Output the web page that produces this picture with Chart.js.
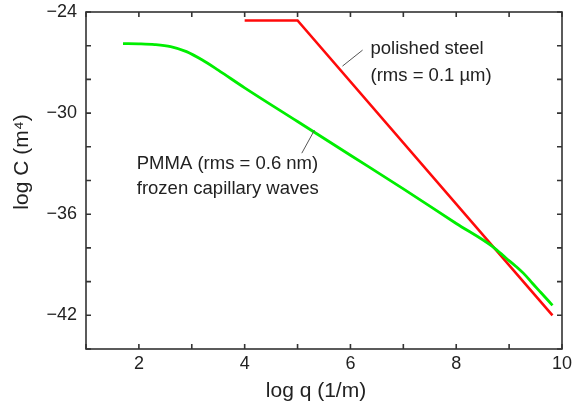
<!DOCTYPE html>
<html>
<head>
<meta charset="utf-8">
<script src="https://cdn.jsdelivr.net/npm/chart.js@4.4.1/dist/chart.umd.min.js"></script>
<style>
  html, body { margin: 0; padding: 0; background: #fff; }
</style>
</head>
<body>
<canvas id="psdChart" width="573" height="409"></canvas>
<script>
// power spectra of two surfaces, log C vs log q

const steelQ = [4.0, 5.0, 9.82];
const steelC = [-24.5, -24.5, -42.0];

const pmmaQ = [1.7, 2.0, 2.3, 2.6, 2.9, 3.2, 3.5, 4.0, 5.0, 6.0, 7.0, 8.0, 8.7, 8.94, 9.13, 9.3, 9.44, 9.6, 9.82];
const pmmaC = [-25.88, -25.89, -25.93, -26.05, -26.35, -26.85, -27.45, -28.5, -30.5, -32.5, -34.5, -36.55, -37.95, -38.6, -39.1, -39.6, -40.1, -40.65, -41.41];

const xTickLabels = [2, 4, 6, 8, 10];
const yTickLabels = [-24, -30, -36, -42];

// text labels and their pointer lines, in data units
const notes = [
  { lines: ['polished steel', '(rms = 0.1 \u00b5m)'], q: 6.38, c: [-26.2, -27.8], lead: [[5.85, -27.21], [6.23, -26.26]] },
  { lines: ['PMMA (rms = 0.6 nm)', 'frozen capillary waves'], q: 1.96, c: [-33.0, -34.48], lead: [[5.08, -32.38], [5.32, -31.01]] },
];

const FONT = '"Liberation Sans", Arial, Helvetica, sans-serif';
const INK = '#222';

function toPoints(xs, ys) {
  return xs.map((x, i) => ({ x, y: ys[i] }));
}

// frame with inward ticks on all four sides, axis titles, and the notes
const framePlugin = {
  id: 'frame',
  afterDraw(chart) {
    const { ctx, chartArea: a, scales } = chart;
    const xs = scales.x, ys = scales.y;
    const len = 5;
    ctx.save();
    ctx.strokeStyle = '#333';
    ctx.lineWidth = 1.6;
    ctx.strokeRect(a.left, a.top, a.right - a.left, a.bottom - a.top);
    ctx.beginPath();
    for (let q = xs.min; q <= xs.max; q += 1) {
      const px = xs.getPixelForValue(q);
      ctx.moveTo(px, a.bottom); ctx.lineTo(px, a.bottom - len);
      ctx.moveTo(px, a.top); ctx.lineTo(px, a.top + len);
    }
    for (let c = ys.min; c <= ys.max; c += 2) {
      const py = ys.getPixelForValue(c);
      ctx.moveTo(a.left, py); ctx.lineTo(a.left + len, py);
      ctx.moveTo(a.right, py); ctx.lineTo(a.right - len, py);
    }
    ctx.stroke();

    // axis titles
    ctx.fillStyle = INK;
    ctx.textAlign = 'center';
    ctx.textBaseline = 'middle';
    ctx.font = '21px ' + FONT;
    ctx.fillText('log q (1/m)', 316, 391);
    ctx.save();
    ctx.translate(22, 162);
    ctx.rotate(-Math.PI / 2);
    ctx.fillText('log C (m\u2074)', 0, 0);
    ctx.restore();

    ctx.strokeStyle = '#555';
    ctx.lineWidth = 1;
    ctx.font = '18.5px ' + FONT;
    ctx.textAlign = 'left';
    notes.forEach(n => {
      ctx.beginPath();
      ctx.moveTo(xs.getPixelForValue(n.lead[0][0]), ys.getPixelForValue(n.lead[0][1]));
      ctx.lineTo(xs.getPixelForValue(n.lead[1][0]), ys.getPixelForValue(n.lead[1][1]));
      ctx.stroke();
      n.lines.forEach((t, i) => {
        ctx.fillText(t, xs.getPixelForValue(n.q), ys.getPixelForValue(n.c[i]));
      });
    });
    ctx.restore();
  }
};

const canvas = document.getElementById('psdChart');
new Chart(canvas, {
  type: 'scatter',
  data: {
    datasets: [
      {
        label: 'PMMA',
        data: toPoints(pmmaQ, pmmaC),
        showLine: true,
        borderColor: '#00ee00',
        borderWidth: 2.8,
        pointRadius: 0,
        cubicInterpolationMode: 'monotone',
      },
      {
        label: 'polished steel',
        data: toPoints(steelQ, steelC),
        showLine: true,
        borderColor: '#ff0a0a',
        borderWidth: 2.6,
        pointRadius: 0,
        tension: 0,
      },
    ]
  },
  options: {
    responsive: false,
    animation: false,
    layout: { padding: { top: 12, right: 11, left: 0, bottom: 0 } },
    plugins: {
      legend: { display: false },
      tooltip: { enabled: false },
    },
    scales: {
      x: {
        type: 'linear',
        min: 1, max: 10,
        grid: { display: false, drawTicks: false },
        border: { display: false },
        ticks: {
          stepSize: 1,
          autoSkip: false,
          maxRotation: 0,
          padding: 4,
          color: INK,
          font: { family: FONT, size: 18 },
          callback: v => xTickLabels.includes(v) ? String(v) : '',
        },
        afterFit: s => { s.height = 60; s.paddingLeft = 0; s.paddingRight = 0; },
      },
      y: {
        type: 'linear',
        min: -44, max: -24,
        grid: { display: false, drawTicks: false },
        border: { display: false },
        ticks: {
          stepSize: 2,
          autoSkip: false,
          padding: 9,
          color: INK,
          font: { family: FONT, size: 18 },
          callback: v => yTickLabels.includes(v) ? '\u2212' + Math.abs(v) : '',
        },
        afterFit: s => { s.width = 86; s.paddingTop = 0; s.paddingBottom = 0; },
      }
    }
  },
  plugins: [framePlugin]
});
</script>
</body>
</html>
